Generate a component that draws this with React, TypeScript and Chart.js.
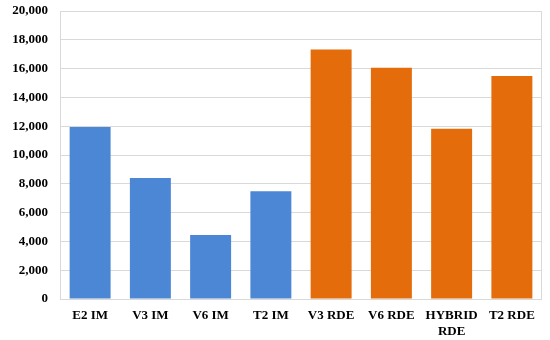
import React, { useEffect, useRef } from "react";
import { Chart, registerables } from "chart.js";

Chart.register(...registerables);

const categories: (string | string[])[] = [
  "E2 IM", "V3 IM", "V6 IM", "T2 IM", "V3 RDE", "V6 RDE", ["HYBRID", "RDE"], "T2 RDE",
];
const values: number[] = [11950, 8400, 4450, 7480, 17330, 16060, 11830, 15490];
const barColors: string[] = [
  "#4c87d5", "#4c87d5", "#4c87d5", "#4c87d5",
  "#e46c0a", "#e46c0a", "#e46c0a", "#e46c0a",
];
const yMin = 0;
const yMax = 20000;
const yStep = 2000;

const sideBorders = {
  id: "sideBorders",
  afterDatasetsDraw(chart: any) {
    const { ctx, chartArea } = chart;
    ctx.save();
    ctx.strokeStyle = "#d9d9d9";
    ctx.lineWidth = 1;
    ctx.beginPath();
    ctx.moveTo(Math.round(chartArea.left) + 0.5, chartArea.top);
    ctx.lineTo(Math.round(chartArea.left) + 0.5, chartArea.bottom);
    ctx.moveTo(Math.round(chartArea.right) - 0.5, chartArea.top);
    ctx.lineTo(Math.round(chartArea.right) - 0.5, chartArea.bottom);
    ctx.stroke();
    ctx.restore();
  },
};

export default function App() {
  const ref = useRef<HTMLCanvasElement | null>(null);
  useEffect(() => {
    document.body.style.margin = "0";
    const font = { family: "'Liberation Serif', 'Times New Roman', serif", size: 13, weight: "bold" as const };
    const chart = new Chart(ref.current!, {
      type: "bar",
      data: {
        labels: categories,
        datasets: [
          {
            data: values,
            backgroundColor: barColors,
            borderWidth: 0,
            categoryPercentage: 1,
            barPercentage: 0.68,
          },
        ],
      },
      options: {
        animation: false,
        responsive: false,
        maintainAspectRatio: false,
        layout: { padding: { top: 11, right: 8, left: 0, bottom: 0 } },
        plugins: { legend: { display: false }, tooltip: { enabled: false } },
        scales: {
          x: {
            grid: { display: false, drawTicks: false },
            border: { display: false },
            ticks: { font, color: "#000", padding: 9, maxRotation: 0, autoSkip: false },
            afterFit: (s: any) => { s.height = 41; },
          },
          y: {
            min: yMin,
            max: yMax,
            grid: { color: "#d9d9d9", drawTicks: false },
            border: { display: false },
            ticks: {
              stepSize: yStep,
              font,
              color: "#000",
              padding: 12,
              callback: (v: any) => Number(v).toLocaleString("en-US"),
            },
            afterFit: (s: any) => { s.width = 60; s.paddingTop = 0; s.paddingBottom = 0; },
          },
        },
      },
      plugins: [sideBorders],
    });
    return () => chart.destroy();
  }, []);
  return (
    <div style={{ position: "absolute", left: 0, top: 0, width: 550, height: 340 }}>
      <canvas ref={ref} width={550} height={340} style={{ width: 550, height: 340 }} />
    </div>
  );
}
